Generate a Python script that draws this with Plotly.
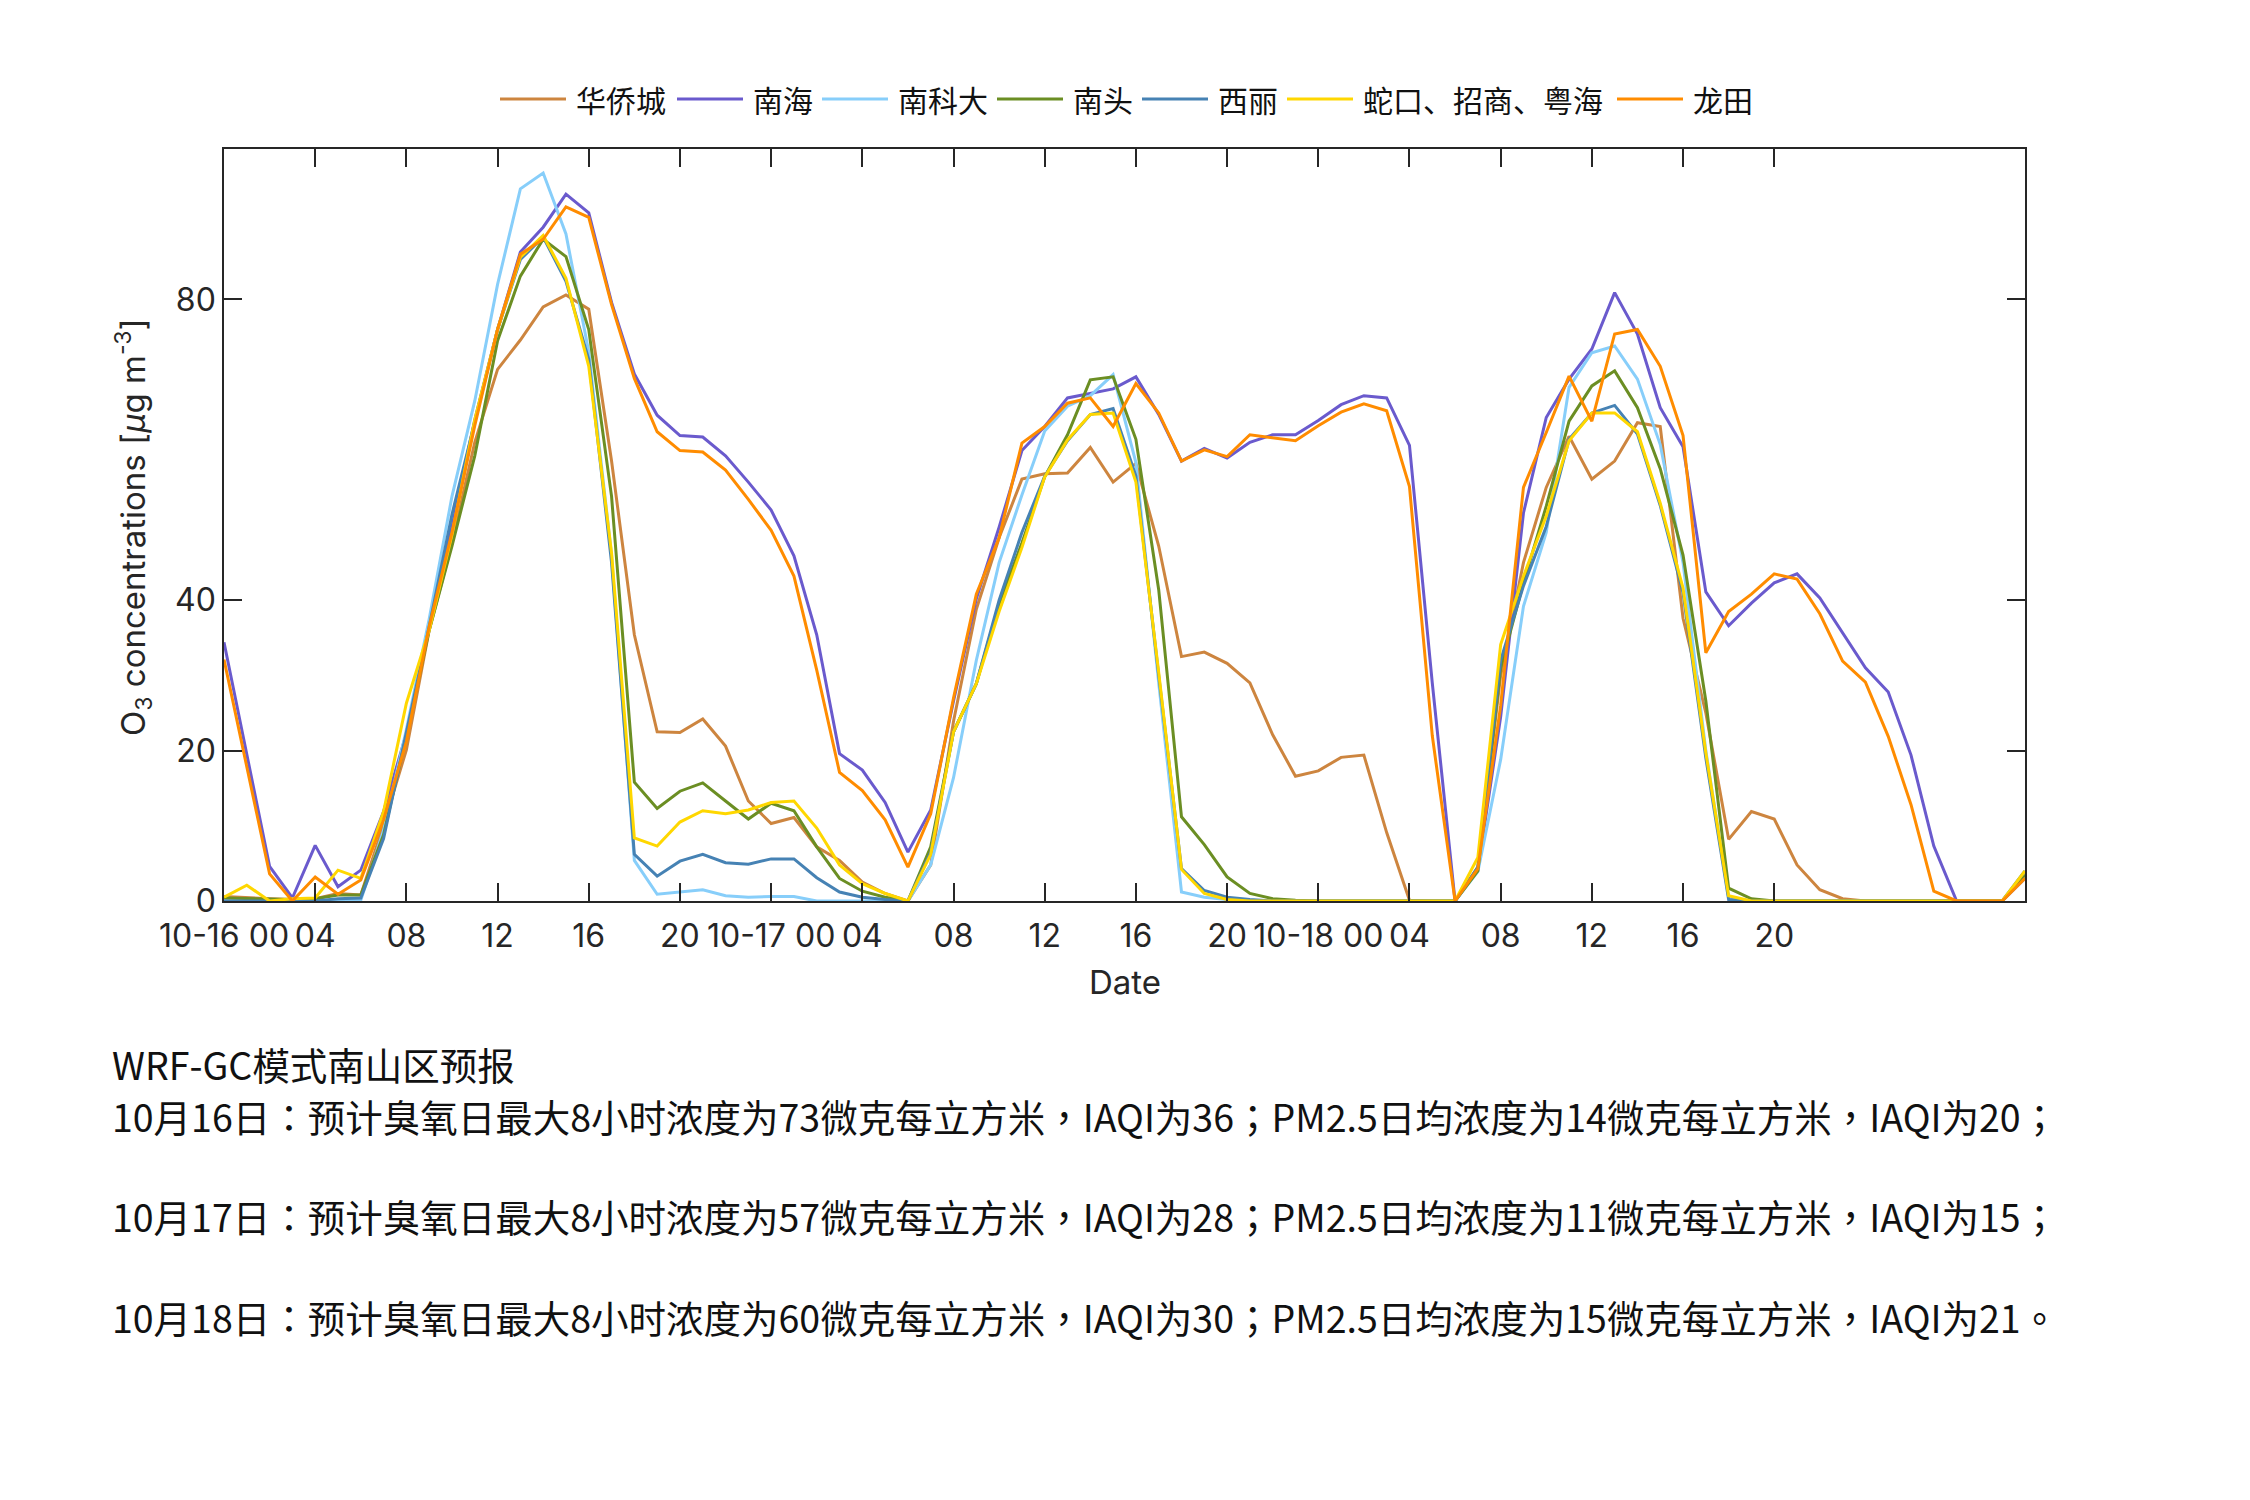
import plotly.graph_objects as go

# ---------------- data (hourly, 10-16 00:00 ... 10-19 07:00) ----------------
hours = list(range(80))

huaqiaocheng = [0.6, 0.4, 0.3, 0.2, 0.3, 1.0, 0.8, 10.1, 20.1, 36.0,
                47.6, 61.0, 70.7, 74.6, 79.0, 80.6, 78.7, 58.5, 35.4, 22.5,
                22.4, 24.2, 20.6, 13.3, 10.3, 11.1, 7.2, 5.4, 2.5, 1.0,
                0.0, 4.8, 23.9, 38.8, 48.3, 56.1, 56.8, 56.9, 60.3, 55.7,
                58.2, 47.2, 32.5, 33.1, 31.6, 29.0, 22.1, 16.6, 17.3, 19.1,
                19.4, 9.1, 0.1, 0.0, 0.0, 4.5, 30.0, 45.0, 55.0, 61.8,
                56.1, 58.5, 63.6, 63.1, 37.6, 25.0, 8.2, 11.9, 10.9, 4.8,
                1.5, 0.3, 0.0, 0.0, 0.0, 0.0, 0.0, 0.0, 0.0, 3.5]

nanhai = [34.4, 19.6, 4.6, 0.4, 7.4, 1.9, 4.1, 11.9, 22.3, 36.8,
          49.8, 64.0, 76.0, 86.3, 89.6, 94.0, 91.5, 79.6, 70.1, 64.6,
          61.9, 61.7, 59.2, 55.7, 52.0, 45.9, 35.4, 19.6, 17.4, 13.1,
          6.5, 12.1, 26.6, 40.2, 49.7, 59.9, 63.1, 66.9, 67.5, 68.1,
          69.7, 64.7, 58.5, 60.2, 58.9, 61.0, 62.0, 62.0, 63.9, 66.0,
          67.2, 66.9, 60.6, 29.0, 0.0, 4.1, 24.5, 51.6, 64.3, 69.4,
          73.4, 80.9, 75.4, 65.6, 60.4, 41.1, 36.6, 39.6, 42.3, 43.5,
          40.3, 35.7, 31.0, 27.8, 19.4, 7.3, 0.0, 0.0, 0.0, 3.0]

nankeda = [0.0, 0.0, 0.0, 0.0, 0.0, 0.1, 0.1, 9.4, 22.8, 37.5,
           53.8, 66.5, 82.0, 94.7, 96.8, 88.7, 73.0, 46.0, 5.4, 0.9,
           1.2, 1.5, 0.7, 0.5, 0.6, 0.6, 0.0, 0.0, 0.0, 0.0,
           0.0, 4.8, 16.4, 32.0, 45.0, 54.0, 62.5, 65.8, 67.2, 70.0,
           58.3, 29.0, 1.2, 0.5, 0.2, 0.0, 0.0, 0.0, 0.0, 0.0,
           0.0, 0.0, 0.0, 0.0, 0.0, 3.9, 18.8, 39.2, 49.0, 68.3,
           72.9, 73.8, 69.4, 60.7, 45.0, 20.0, 0.5, 0.0, 0.0, 0.0,
           0.0, 0.0, 0.0, 0.0, 0.0, 0.0, 0.0, 0.0, 0.0, 3.5]

nantou = [0.4, 0.3, 0.2, 0.2, 0.3, 0.8, 0.8, 8.8, 22.0, 36.0,
          47.2, 59.2, 74.5, 83.1, 88.0, 85.7, 76.0, 53.8, 15.8, 12.3,
          14.6, 15.7, 13.3, 10.9, 13.0, 12.0, 7.2, 3.0, 1.3, 0.5,
          0.0, 7.2, 22.5, 28.9, 39.5, 47.6, 56.4, 62.0, 69.3, 69.7,
          61.4, 41.4, 11.2, 7.5, 3.2, 1.0, 0.3, 0.1, 0.0, 0.0,
          0.0, 0.0, 0.0, 0.0, 0.0, 4.0, 31.0, 42.3, 52.5, 63.8,
          68.5, 70.5, 65.6, 57.5, 46.0, 26.6, 1.7, 0.3, 0.0, 0.0,
          0.0, 0.0, 0.0, 0.0, 0.0, 0.0, 0.0, 0.0, 0.0, 3.5]

xili = [0.0, 0.0, 0.0, 0.0, 0.0, 0.3, 0.4, 8.3, 22.3, 36.5,
        51.4, 63.5, 76.0, 85.3, 88.3, 82.4, 72.0, 45.0, 6.2, 3.3,
        5.3, 6.2, 5.1, 4.9, 5.6, 5.6, 3.1, 1.2, 0.5, 0.2,
        0.0, 6.5, 22.5, 28.9, 40.0, 49.0, 56.5, 61.2, 64.7, 65.5,
        56.5, 30.0, 4.3, 1.4, 0.5, 0.2, 0.0, 0.0, 0.0, 0.0,
        0.0, 0.0, 0.0, 0.0, 0.0, 4.5, 32.0, 41.9, 49.8, 61.4,
        64.9, 65.9, 62.1, 52.6, 41.0, 19.0, 0.2, 0.0, 0.0, 0.0,
        0.0, 0.0, 0.0, 0.0, 0.0, 0.0, 0.0, 0.0, 0.0, 4.0]

shekou = [0.5, 2.1, 0.0, 0.3, 0.4, 4.1, 3.0, 11.9, 26.3, 36.0,
          48.7, 64.0, 76.0, 85.6, 88.5, 82.8, 71.1, 46.3, 8.4, 7.3,
          10.5, 12.0, 11.6, 12.1, 13.1, 13.3, 9.7, 4.8, 2.3, 1.0,
          0.0, 6.2, 22.5, 28.9, 38.5, 47.0, 56.4, 61.3, 64.7, 64.9,
          55.7, 30.4, 4.2, 1.0, 0.2, 0.0, 0.0, 0.0, 0.0, 0.0,
          0.0, 0.0, 0.0, 0.0, 0.0, 5.8, 34.1, 43.2, 51.2, 61.2,
          64.9, 64.9, 62.4, 52.9, 41.6, 19.7, 0.7, 0.0, 0.0, 0.0,
          0.0, 0.0, 0.0, 0.0, 0.0, 0.0, 0.0, 0.0, 0.0, 4.0]

longtian = [32.1, 17.9, 3.6, 0.0, 3.2, 0.9, 2.8, 10.8, 21.2, 36.5,
            49.0, 63.2, 76.0, 86.0, 88.0, 92.3, 90.9, 79.3, 69.5, 62.4,
            59.9, 59.7, 57.3, 53.4, 49.3, 43.2, 30.7, 17.1, 14.7, 10.8,
            4.5, 11.6, 27.0, 40.8, 48.3, 60.9, 63.1, 66.2, 66.9, 63.1,
            68.8, 64.9, 58.5, 60.0, 59.1, 62.0, 61.6, 61.2, 63.2, 65.0,
            66.1, 65.2, 55.1, 22.0, 0.0, 4.3, 26.0, 55.0, 62.3, 69.8,
            63.8, 75.4, 76.0, 71.1, 61.9, 33.0, 38.5, 40.8, 43.5, 42.8,
            38.2, 31.9, 29.1, 21.9, 12.8, 1.3, 0.0, 0.0, 0.0, 3.0]

series_names = ["华侨城", "南海", "南科大", "南头", "西丽", "蛇口、招商、粤海", "龙田"]
series_values = [huaqiaocheng, nanhai, nankeda, nantou, xili, shekou, longtian]
series_colors = ["#CD853F", "#6A5ACD", "#87CEFA", "#6B8E23", "#4682B4", "#FFD700", "#FF8C00"]

x_tickvals = [0, 4, 8, 12, 16, 20, 24, 28, 32, 36, 40, 44, 48, 52, 56, 60, 64, 68]
x_ticktext = ["10-16 00", "04", "08", "12", "16", "20", "10-17 00", "04", "08", "12",
              "16", "20", "10-18 00", "04", "08", "12", "16", "20"]
y_tickvals = [0, 20, 40, 80]

forecast_lines = [
    "WRF-GC模式南山区预报",
    "10月16日：预计臭氧日最大8小时浓度为73微克每立方米，IAQI为36；PM2.5日均浓度为14微克每立方米，IAQI为20；",
    "10月17日：预计臭氧日最大8小时浓度为57微克每立方米，IAQI为28；PM2.5日均浓度为11微克每立方米，IAQI为15；",
    "10月18日：预计臭氧日最大8小时浓度为60微克每立方米，IAQI为30；PM2.5日均浓度为15微克每立方米，IAQI为21。",
]

# ---------------- layout geometry (pixels) ----------------
W, H = 2250, 1500
ML, MR, MT, MB = 224, 225, 149, 599
PW, PH = W - ML - MR, H - MT - MB


def px_x(px):
    return (px - ML) / PW


def px_y(py):
    return (H - MB - py) / PH


legend_line_start = [500, 677, 822, 997, 1142, 1287, 1617]   # legend layout, pixels
legend_line_len = 66
legend_text_gap = 8
legend_y = 99
forecast_y_px = [1063, 1115, 1215, 1316]

# ---------------- figure ----------------
fig = go.Figure()
for name, vals, col in zip(series_names, series_values, series_colors):
    fig.add_trace(go.Scatter(x=hours, y=vals, mode="lines", name=name,
                             line=dict(color=col, width=3), showlegend=False))

latin = "Inter, Liberation Sans, sans-serif"
axis_font = dict(family=latin, size=32, color="#262626")
cjk_sc = "Noto Sans CJK SC, sans-serif"
cjk_tc = "Noto Sans CJK TC, Noto Sans CJK SC, sans-serif"

fig.update_layout(
    width=W, height=H,
    margin=dict(l=ML, r=MR, t=MT, b=MB),
    paper_bgcolor="white", plot_bgcolor="white",
    showlegend=False,
    xaxis=dict(range=[0, 79], tickmode="array", tickvals=x_tickvals, ticktext=x_ticktext,
               showline=True, mirror="ticks", linecolor="#262626", linewidth=1.5,
               ticks="inside", ticklen=18, tickwidth=1.5, tickcolor="#262626",
               ticklabelstandoff=6,
               showgrid=False, zeroline=False, tickfont=axis_font),
    yaxis=dict(range=[0, 100], tickmode="array", tickvals=y_tickvals,
               showline=True, mirror="ticks", linecolor="#262626", linewidth=1.5,
               ticks="inside", ticklen=18, tickwidth=1.5, tickcolor="#262626",
               showgrid=False, zeroline=False, tickfont=axis_font),
)

annotations = [
    dict(text="Date", xref="paper", yref="paper", x=0.5, y=px_y(982),
         xanchor="center", yanchor="middle", showarrow=False,
         font=dict(family=latin, size=33, color="#262626")),
    dict(text="O<sub>3</sub> concentrations [<i>μ</i>g m<sup>-3</sup>]", xref="paper", yref="paper",
         x=px_x(133), y=px_y(527), xanchor="center", yanchor="middle", textangle=-90,
         showarrow=False, font=dict(family=latin, size=33, color="#262626")),
]
for txt, yy in zip(forecast_lines, forecast_y_px):
    annotations.append(dict(text=txt, xref="paper", yref="paper", x=px_x(110), y=px_y(yy),
                            xanchor="left", yanchor="middle", showarrow=False,
                            font=dict(family=cjk_tc, size=37.5, color="#111111")))

shapes = []
for name, col, x0 in zip(series_names, series_colors, legend_line_start):
    shapes.append(dict(type="line", xref="paper", yref="paper",
                       x0=px_x(x0), x1=px_x(x0 + legend_line_len),
                       y0=px_y(legend_y), y1=px_y(legend_y),
                       line=dict(color=col, width=3)))
    annotations.append(dict(text=name, xref="paper", yref="paper",
                            x=px_x(x0 + legend_line_len + legend_text_gap), y=px_y(legend_y),
                            xanchor="left", yanchor="middle", showarrow=False,
                            font=dict(family=cjk_sc, size=30, color="#111111")))

fig.update_layout(annotations=annotations, shapes=shapes)

fig.write_html("out.html")
